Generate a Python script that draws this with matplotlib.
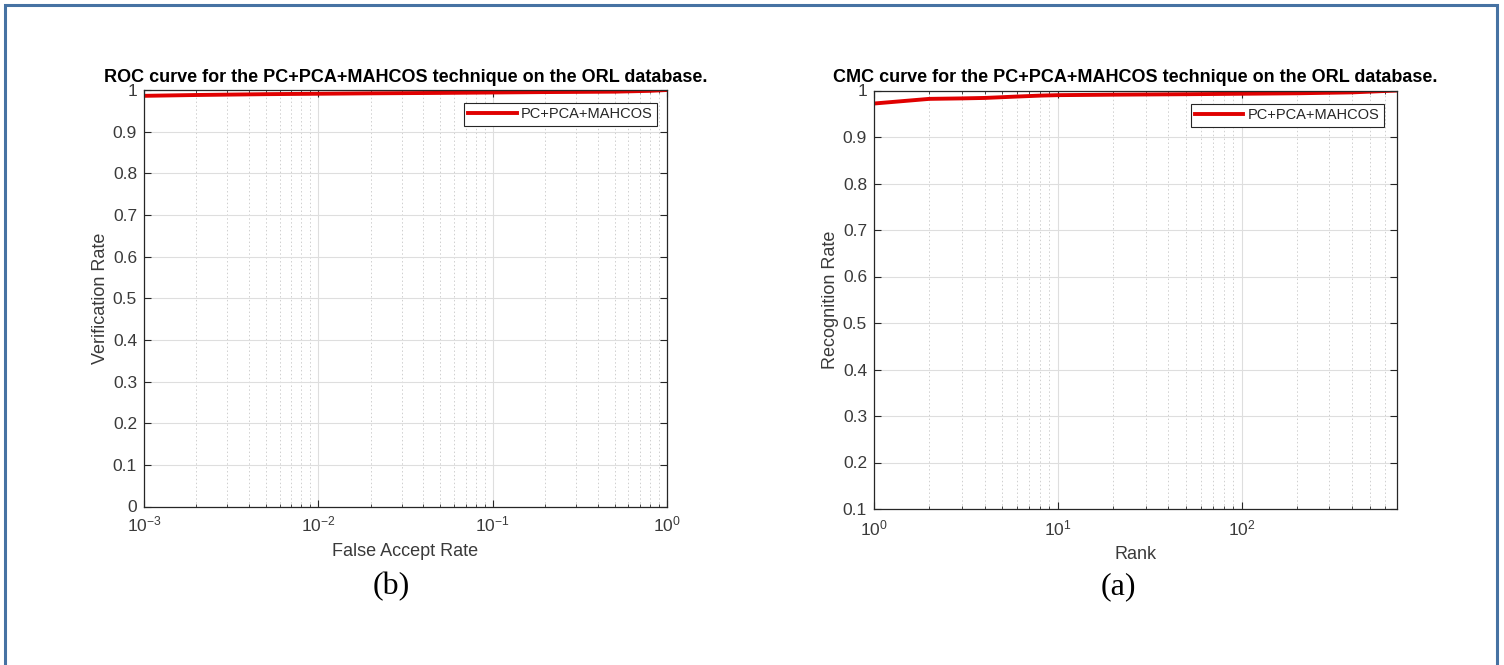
import matplotlib
matplotlib.use("Agg")
import matplotlib.pyplot as plt
from matplotlib.patches import Rectangle
from matplotlib.ticker import LogLocator, NullFormatter, MultipleLocator

plt.rcParams['font.family'] = ['Liberation Sans', 'DejaVu Sans']
plt.rcParams['mathtext.fontset'] = 'custom'
plt.rcParams['mathtext.rm'] = 'Liberation Sans'
plt.rcParams['mathtext.it'] = 'Liberation Sans:italic'
plt.rcParams['mathtext.bf'] = 'Liberation Sans:bold'

# ---- data ----
roc_far = [0.001, 0.002, 0.005, 0.01, 0.02, 0.05, 0.1, 0.2, 0.5, 0.8, 1.0]
roc_vr = [0.986, 0.988, 0.990, 0.991, 0.992, 0.993, 0.994, 0.995, 0.996, 0.998, 1.0]

cmc_rank = [1, 2, 3, 4, 6, 8, 10, 20, 50, 100, 200, 400, 700]
cmc_rate = [0.972, 0.982, 0.983, 0.984, 0.987, 0.989, 0.990, 0.991, 0.992, 0.993, 0.994, 0.996, 1.0]

series_label = "PC+PCA+MAHCOS"
roc_title = "ROC curve for the PC+PCA+MAHCOS technique on the ORL database."
cmc_title = "CMC curve for the PC+PCA+MAHCOS technique on the ORL database."

W, H = 1504, 665
fig = plt.figure(figsize=(W / 100, H / 100), dpi=100)
fig.patch.set_facecolor('white')

tick_col = '#3a3a3a'
label_col = '#3a3a3a'
line_col = '#e00000'


def px_axes(x0, y0, x1, y1):
    return fig.add_axes([x0 / W, 1 - y1 / H, (x1 - x0) / W, (y1 - y0) / H])


def style(ax, xpad):
    ax.set_xscale('log')
    ax.xaxis.set_major_locator(LogLocator(base=10, numticks=10))
    ax.xaxis.set_minor_locator(LogLocator(base=10, subs=range(2, 10), numticks=20))
    ax.xaxis.set_minor_formatter(NullFormatter())
    ax.yaxis.set_major_locator(MultipleLocator(0.1))
    ax.grid(True, which='major', axis='both', color='#dedede', lw=0.8, ls='-')
    ax.grid(True, which='minor', axis='x', color='#cfcfcf', lw=0.7, ls=(0, (1.5, 2.5)))
    ax.set_axisbelow(True)
    ax.tick_params(which='major', direction='in', length=5, width=0.8,
                   top=True, right=True, labelsize=12.5, colors='#262626',
                   labelcolor=tick_col, pad=5)
    ax.tick_params(axis='x', which='major', pad=xpad)
    ax.tick_params(which='minor', direction='in', length=2.5, width=0.6,
                   top=True, right=True, colors='#262626')
    for s in ax.spines.values():
        s.set_color('#262626')
        s.set_linewidth(0.9)


def add_legend(ax, rx, ty):
    leg = ax.legend(loc='upper right', bbox_to_anchor=(rx, ty), borderaxespad=0,
                    fontsize=10.5, fancybox=False, edgecolor='#262626',
                    framealpha=1, handlelength=3.3, borderpad=0.3,
                    handletextpad=0.3)
    leg.get_frame().set_linewidth(0.8)
    for t in leg.get_texts():
        t.set_color('#262626')
    return leg


# ROC (left)
ax1 = px_axes(144, 90, 667, 506.5)
style(ax1, 6)
ax1.plot(roc_far, roc_vr, color=line_col, lw=2.8, label=series_label)
ax1.set_xlim(1e-3, 1)
ax1.set_ylim(0, 1)
ax1.set_yticks([i / 10 for i in range(11)])
ax1.set_yticklabels(['0'] + ['%.1f' % (i / 10) for i in range(1, 10)] + ['1'])
ax1.set_title(roc_title, fontsize=13, fontweight='bold', pad=6)
ax1.set_xlabel('False Accept Rate', fontsize=13, color=label_col, labelpad=6)
ax1.set_ylabel('Verification Rate', fontsize=13, color=label_col, labelpad=2.5)
add_legend(ax1, 0.981, 0.969)

# CMC (right)
ax2 = px_axes(874, 90.5, 1397, 509)
style(ax2, 7)
ax2.plot(cmc_rank, cmc_rate, color=line_col, lw=2.8, label=series_label)
ax2.set_xlim(1, 700)
ax2.set_ylim(0.1, 1)
ax2.set_yticks([i / 10 for i in range(1, 11)])
ax2.set_yticklabels(['%.1f' % (i / 10) for i in range(1, 10)] + ['1'])
ax2.set_title(cmc_title, fontsize=13, fontweight='bold', pad=6)
ax2.set_xlabel('Rank', fontsize=13, color=label_col, labelpad=5)
ax2.set_ylabel('Recognition Rate', fontsize=13, color=label_col, labelpad=2.5)
add_legend(ax2, 0.975, 0.968)

# sub-captions
fig.text(391 / W, 1 - 587 / H, '(b)', fontsize=23, family='Liberation Serif',
         ha='center', va='center', color='black')
fig.text(1118 / W, 1 - 587 / H, '(a)', fontsize=23, family='Liberation Serif',
         ha='center', va='center', color='black')

# blue frame
fig.add_artist(Rectangle((5 / W, -0.02), (1497 - 5) / W, 1 - 5 / H + 0.02,
                         transform=fig.transFigure, fill=False,
                         edgecolor='#4672a3', lw=2.2))

fig.savefig('out.png', dpi=100, facecolor='white')
